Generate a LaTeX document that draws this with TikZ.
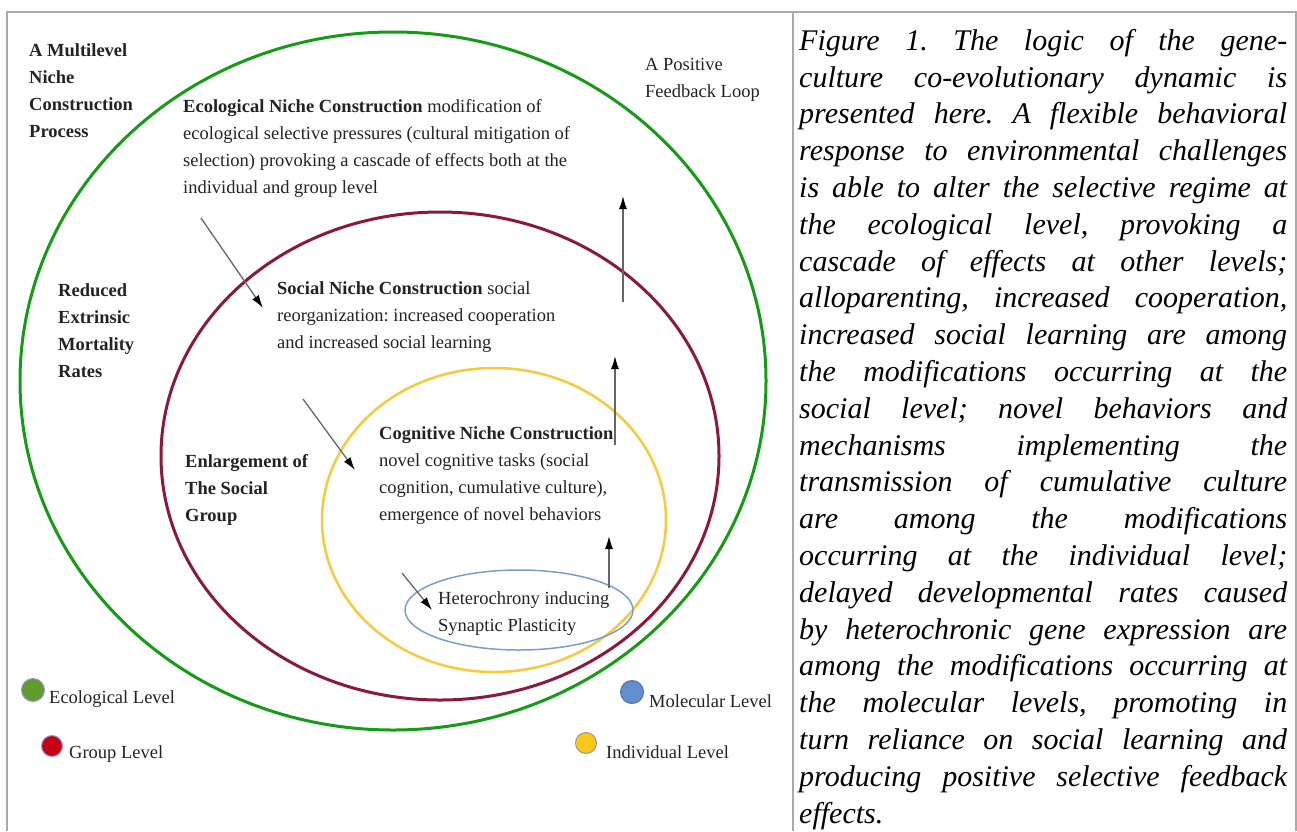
\documentclass[tikz,border=0pt]{standalone}
\usepackage{fontspec}
\setmainfont{Liberation Serif}
\usetikzlibrary{arrows.meta,shapes.geometric}

\definecolor{ringGreen}{RGB}{22,155,22}
\definecolor{ringRed}{RGB}{140,25,60}
\definecolor{ringYellow}{RGB}{246,202,60}
\definecolor{ringBlue}{RGB}{122,156,210}
\definecolor{dotGreen}{RGB}{95,155,45}
\definecolor{dotRed}{RGB}{200,0,22}
\definecolor{dotBlue}{RGB}{98,142,205}
\definecolor{dotYellow}{RGB}{250,200,25}
\definecolor{frameGray}{RGB}{170,170,170}
\definecolor{inkDark}{RGB}{35,35,35}

\begin{document}
\frenchspacing
\begin{tikzpicture}[x=1pt,y=-1pt,
  ring/.style={draw, ellipse, inner sep=0pt, fill=none},
  % multi-line labels are placed by the baseline of their last line
  lbl/.style={font=\fontsize{18.5}{26.7}\selectfont, align=left, inner sep=0pt,
              anchor=base west, text=inkDark},
  legdot/.style={circle, inner sep=0pt, minimum size=23pt, line width=1pt},
  flow/.style={draw=black!60, line width=1.3pt,
               -{Latex[length=13pt,width=8pt,color=black]}},
  caption/.style={font=\fontsize{30}{36.8}\selectfont\itshape, align=left,
                  inner sep=0pt, anchor=base west, text=black}]
\useasboundingbox (0,0) rectangle (1297,831);

% table frame
\draw[frameGray, line width=1.4pt] (7,831) -- (7,12) -- (1296,12) -- (1296,831);
\draw[frameGray, line width=1.4pt] (793,12) -- (793,831);

% nested levels
\node[ring, draw=ringGreen, line width=3pt, minimum width=746pt, minimum height=698pt] (eco) at (393,381) {};
\node[ring, draw=ringRed, line width=3pt, minimum width=558pt, minimum height=488pt] (grp) at (440,456) {};
\node[ring, draw=ringYellow, line width=2.5pt, minimum width=344pt, minimum height=304pt] (ind) at (494,520) {};
\node[ring, draw=ringBlue, line width=1.5pt, minimum width=228pt, minimum height=80pt] (mol) at (519,610) {};

% labels
\node[lbl, font=\fontsize{18.5}{26.7}\selectfont\bfseries] (multi) at (29,137) {A Multilevel\\Niche\\Construction\\Process};
\node[lbl] (loop) at (645,97) {A Positive\\Feedback Loop};
\node[lbl] (ecoTxt) at (183,193) {\textbf{Ecological Niche Construction} modification of\\ecological selective pressures (cultural mitigation of\\selection) provoking a cascade of effects both at the\\individual and group level};
\node[lbl, font=\fontsize{18.5}{26.7}\selectfont\bfseries] (mort) at (58,377) {Reduced\\Extrinsic\\Mortality\\Rates};
\node[lbl] (socTxt) at (277,348) {\textbf{Social Niche Construction} social\\reorganization: increased cooperation\\and increased social learning};
\node[lbl, font=\fontsize{18.5}{26.7}\selectfont\bfseries] (enl) at (185,521) {Enlargement of\\The Social\\Group};
\node[lbl] (cogTxt) at (379,520) {\textbf{Cognitive Niche Construction}\\novel cognitive tasks (social\\cognition, cumulative culture),\\emergence of novel behaviors};
\node[lbl] (hetTxt) at (438,631) {Heterochrony inducing\\Synaptic Plasticity};

% cascade arrows
\coordinate (c1s) at (201,218); \coordinate (c1e) at (263,308);
\coordinate (c2s) at (303,399); \coordinate (c2e) at (355,470);
\coordinate (c3s) at (402,573); \coordinate (c3e) at (432,610);
\draw[flow] (c1s) -- (c1e);
\draw[flow] (c2s) -- (c2e);
\draw[flow] (c3s) -- (c3e);

% feedback arrows
\coordinate (f1s) at (623,302); \coordinate (f1e) at (623,196);
\coordinate (f2s) at (615,445); \coordinate (f2e) at (615,356);
\coordinate (f3s) at (609,588); \coordinate (f3e) at (609,536);
\draw[flow] (f1s) -- (f1e);
\draw[flow] (f2s) -- (f2e);
\draw[flow] (f3s) -- (f3e);

% legend
\node[legdot, fill=dotGreen, draw=black!45!blue!40] (kEco) at (33,690) {};
\node[lbl] (kEcoTxt) at (49,703) {Ecological Level};
\node[legdot, fill=dotRed, draw=black!40!blue!40, minimum size=21pt] (kGrp) at (52,746) {};
\node[lbl] (kGrpTxt) at (69,758) {Group Level};
\node[legdot, fill=dotBlue, draw=dotBlue!80!black] (kMol) at (632,692) {};
\node[lbl] (kMolTxt) at (649,707) {Molecular Level};
\node[legdot, fill=dotYellow, draw=black!40, minimum size=21pt] (kInd) at (586,743) {};
\node[lbl] (kIndTxt) at (606,758) {Individual Level};

% figure caption
\node[caption] (cap) at (799,823) {%
\makebox[488pt][s]{Figure 1. The logic of the gene-}\\
\makebox[488pt][s]{culture co-evolutionary dynamic is}\\
\makebox[488pt][s]{presented here. A flexible behavioral}\\
\makebox[488pt][s]{response to environmental challenges}\\
\makebox[488pt][s]{is able to alter the selective regime at}\\
\makebox[488pt][s]{the ecological level, provoking a}\\
\makebox[488pt][s]{cascade of effects at other levels;}\\
\makebox[488pt][s]{alloparenting, increased cooperation,}\\
\makebox[488pt][s]{increased social learning are among}\\
\makebox[488pt][s]{the modifications occurring at the}\\
\makebox[488pt][s]{social level; novel behaviors and}\\
\makebox[488pt][s]{mechanisms implementing the}\\
\makebox[488pt][s]{transmission of cumulative culture}\\
\makebox[488pt][s]{are among the modifications}\\
\makebox[488pt][s]{occurring at the individual level;}\\
\makebox[488pt][s]{delayed developmental rates caused}\\
\makebox[488pt][s]{by heterochronic gene expression are}\\
\makebox[488pt][s]{among the modifications occurring at}\\
\makebox[488pt][s]{the molecular levels, promoting in}\\
\makebox[488pt][s]{turn reliance on social learning and}\\
\makebox[488pt][s]{producing positive selective feedback}\\
effects.};
\end{tikzpicture}
\end{document}
